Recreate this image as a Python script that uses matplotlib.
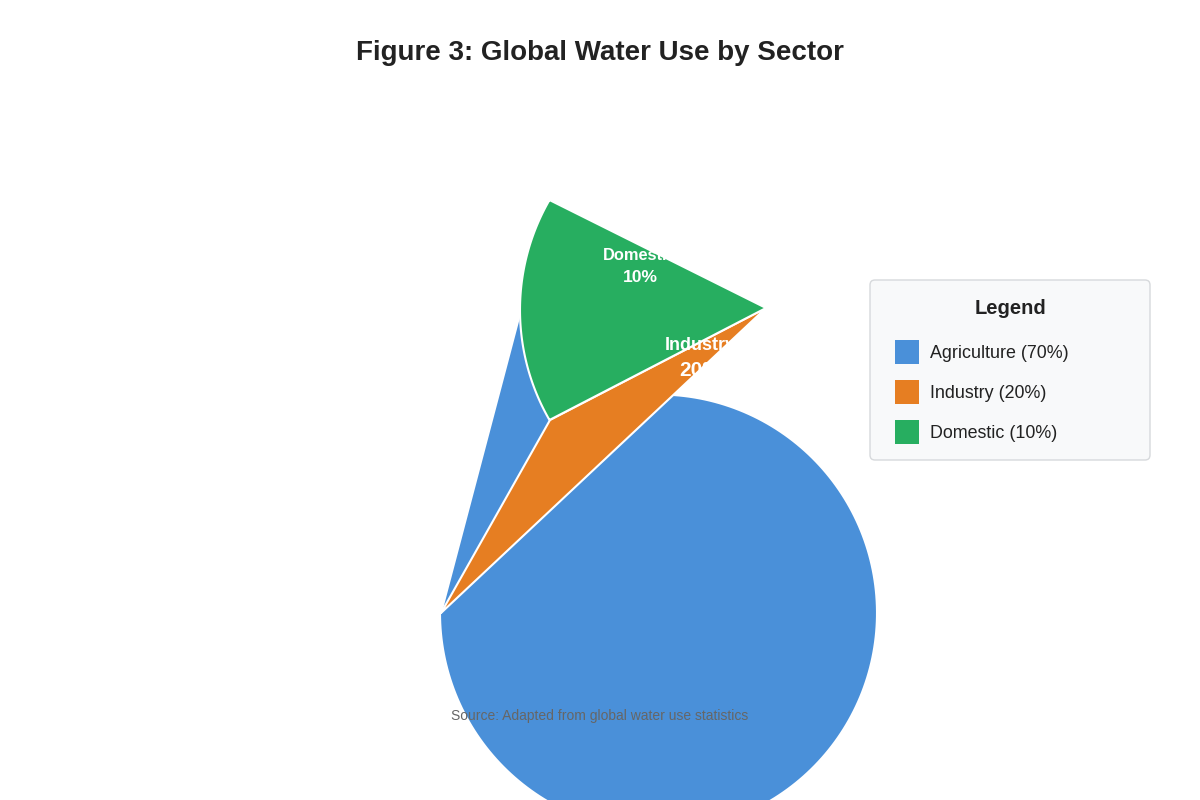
import numpy as np
import matplotlib
matplotlib.use("Agg")
import matplotlib.pyplot as plt
from matplotlib.patches import Polygon, Rectangle, FancyBboxPatch

plt.rcParams['font.family'] = ['Liberation Sans', 'DejaVu Sans']

# data
sectors = ['Agriculture', 'Industry', 'Domestic']
shares = [70, 20, 10]
colors = ['#4a90d9', '#e67e22', '#27ae60']

title = 'Figure 3: Global Water Use by Sector'
source = 'Source: Adapted from global water use statistics'

# geometry of the (mis-drawn) pie, in pixel coords, y pointing down
cx, cy, R = 550, 420, 220
top = (cx, cy - R)
apex = (766, 308)
tip = (441, 613)


def arc(x0, y0, r, t0, t1, n=200):
    t = np.radians(np.linspace(t0, t1, n))
    return np.column_stack([x0 + r * np.cos(t), y0 + r * np.sin(t)])


fig = plt.figure(figsize=(12, 8), dpi=100)
ax = fig.add_axes([0, 0, 1, 1])
ax.set_xlim(0, 1200)
ax.set_ylim(800, 0)
ax.axis('off')

edge = dict(edgecolor='white', linewidth=1.5, joinstyle='round')

# agriculture
blue = np.vstack([[(cx, cy), top, tip], arc(658.5, 613, 218.5, 180, -90)])
ax.add_patch(Polygon(blue, closed=True, facecolor=colors[0], **edge))

# industry
ax.add_patch(Polygon([(cx, cy), apex, tip], closed=True, facecolor=colors[1], **edge))

# domestic
green = np.vstack([[apex], arc(740, 310, R, -150, -210)])
ax.add_patch(Polygon(green, closed=True, facecolor=colors[2], **edge))

# slice labels
lab_pos = {'Domestic': (640, 256, 278, 11.8, 12.6), 'Industry': (700, 346, 370, 13, 15)}
for name, val in zip(sectors, shares):
    if name not in lab_pos:
        continue
    x, y1, y2, fs1, fs2 = lab_pos[name]
    ax.text(x, y1, name, color='white', fontsize=fs1, fontweight='bold', ha='center', va='center')
    ax.text(x, y2, f'{val}%', color='white', fontsize=fs2, fontweight='bold', ha='center', va='center')

# title and source
ax.text(600, 53, title, fontsize=20, fontweight='bold', color='#222222', ha='center', va='center')
ax.text(600, 716, source, fontsize=10, color='#666666', ha='center', va='center')

# legend box
lx, ly, lw, lh = 870, 280, 280, 180
ax.add_patch(FancyBboxPatch((lx, ly), lw, lh, boxstyle='round,pad=0,rounding_size=5',
                            facecolor='#f8f9fa', edgecolor='#d6d9dc', linewidth=1))
ax.text(lx + lw / 2, ly + 29, 'Legend', fontsize=14.5, fontweight='bold', color='#222222',
        ha='center', va='center')
for i, (name, val, c) in enumerate(zip(sectors, shares, colors)):
    yy = ly + 72 + 40 * i
    ax.add_patch(Rectangle((lx + 25, yy - 12), 24, 24, facecolor=c, edgecolor='none'))
    ax.text(lx + 60, yy + 2, f'{name} ({val}%)', fontsize=12.9, color='#222222', ha='left', va='center')

fig.savefig('out.png', dpi=100)
